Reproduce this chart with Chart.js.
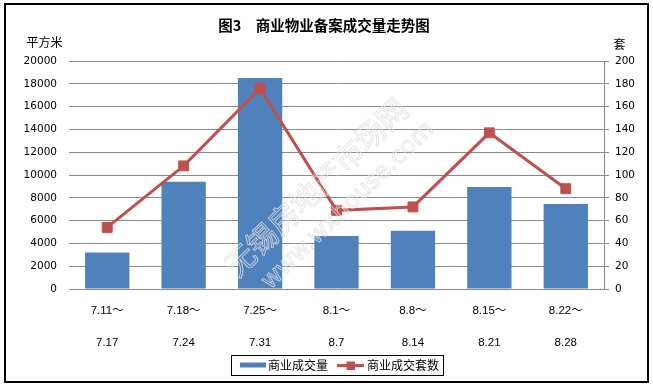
<!DOCTYPE html>
<html>
<head>
<meta charset="utf-8">
<script src="https://cdn.jsdelivr.net/npm/chart.js@4"></script>
<style>
  html, body { margin: 0; padding: 0; background: #fff; }
  #wrap { width: 653px; height: 388px; }
</style>
</head>
<body>
<div id="wrap"><canvas id="c" width="653" height="388"></canvas></div>
<script>
// ---- data ----
const startLabels = ["7.11～", "7.18～", "7.25～", "8.1～", "8.8～", "8.15～", "8.22～"];
const endLabels   = ["7.17", "7.24", "7.31", "8.7", "8.14", "8.21", "8.28"];
const areaValues  = [3200, 9400, 18500, 4650, 5100, 8950, 7450];   // 商业成交量 (平方米)
const countValues = [54, 108, 176, 69, 72, 137, 88];                // 商业成交套数 (套)
const leftTicks   = [0, 2000, 4000, 6000, 8000, 10000, 12000, 14000, 16000, 18000, 20000];
const rightTicks  = [0, 20, 40, 60, 80, 100, 120, 140, 160, 180, 200];
const titleText   = "图3　商业物业备案成交量走势图";
const leftUnit    = "平方米";
const rightUnit   = "套";
const seriesNames = ["商业成交量", "商业成交套数"];
const watermark1  = "无锡房地产市场网";
const watermark2  = "www.wxhouse.com";

const categories = startLabels.map((s, i) => [s, "", endLabels[i]]);

const BLUE = "#4F81BD";
const RED = "#C0504D";
const GRID = "#8a8a8a";
const CJK = "'Noto Sans CJK SC', 'Noto Sans', sans-serif";
const NUM = "'DejaVu Sans', 'Liberation Sans', sans-serif";

const decor = {
  id: "decor",
  beforeDraw(chart) {
    const ctx = chart.ctx;
    ctx.save();
    ctx.fillStyle = "#fff";
    ctx.fillRect(0, 0, chart.width, chart.height);
    ctx.restore();
  },
  afterDraw(chart) {
    const ctx = chart.ctx;
    ctx.save();
    // watermark
    ctx.save();
    ctx.translate(330, 190);
    ctx.rotate(-44 * Math.PI / 180);
    ctx.strokeStyle = "rgba(222,222,222,0.8)";
    ctx.lineWidth = 1;
    ctx.textAlign = "center";
    ctx.textBaseline = "middle";
    ctx.font = "30px " + CJK;
    ctx.strokeText(watermark1, -8, -12);
    ctx.font = "24px " + NUM;
    ctx.strokeText(watermark2, 2, 24);
    ctx.restore();

    // outer border
    ctx.strokeStyle = "#000";
    ctx.lineWidth = 2;
    ctx.strokeRect(5, 4, 643, 378);

    // title
    ctx.fillStyle = "#000";
    ctx.textAlign = "center";
    ctx.textBaseline = "middle";
    ctx.font = "bold 14.5px " + CJK;
    ctx.fillText(titleText, 324, 25);

    // units
    ctx.font = "12px " + CJK;
    ctx.fillText(leftUnit, 44.5, 42);
    ctx.fillText(rightUnit, 619.5, 44);

    // legend
    ctx.lineWidth = 1;
    ctx.strokeStyle = "#000";
    ctx.strokeRect(231.5, 355.5, 212, 20);
    ctx.fillStyle = BLUE;
    ctx.fillRect(240, 362.5, 26, 5);
    ctx.fillStyle = "#000";
    ctx.textAlign = "left";
    ctx.font = "12px " + CJK;
    ctx.fillText(seriesNames[0], 268, 365.5);
    ctx.strokeStyle = RED;
    ctx.lineWidth = 3;
    ctx.beginPath();
    ctx.moveTo(337, 365.5);
    ctx.lineTo(364, 365.5);
    ctx.stroke();
    ctx.fillStyle = RED;
    ctx.fillRect(346.5, 361.5, 8.5, 8.5);
    ctx.fillStyle = "#000";
    ctx.fillText(seriesNames[1], 367, 365.5);
    ctx.restore();
  }
};

new Chart(document.getElementById("c"), {
  data: {
    labels: categories,
    datasets: [
      {
        type: "line",
        label: seriesNames[1],
        data: countValues,
        yAxisID: "yR",
        borderColor: RED,
        backgroundColor: RED,
        borderWidth: 3,
        pointStyle: "rect",
        pointRadius: 7,
        pointHoverRadius: 7,
        pointBorderWidth: 1,
        pointBorderColor: RED,
        tension: 0,
        order: 0
      },
      {
        type: "bar",
        label: seriesNames[0],
        data: areaValues,
        yAxisID: "yL",
        backgroundColor: BLUE,
        borderWidth: 0,
        barPercentage: 0.58,
        categoryPercentage: 1,
        order: 1
      }
    ]
  },
  options: {
    responsive: false,
    devicePixelRatio: 1,
    animation: false,
    layout: { padding: { top: 61, left: 0, right: 0, bottom: 0 } },
    plugins: {
      legend: { display: false },
      title: { display: false },
      tooltip: { enabled: false }
    },
    scales: {
      x: {
        grid: { display: false, drawTicks: false },
        border: { display: false },
        ticks: {
          color: "#000",
          maxRotation: 0,
          autoSkip: false,
          padding: 13.5,
          font: { family: "'Liberation Sans', 'Noto Sans CJK SC', sans-serif", size: 11.5, lineHeight: 1.41 }
        },
        afterFit(s) { s.height = 99; }
      },
      yL: {
        position: "left",
        min: 0, max: 20000,
        afterBuildTicks(s) { s.ticks = leftTicks.map(v => ({ value: v })); },
        grid: { color: GRID, lineWidth: 1, drawTicks: false },
        border: { display: false },
        ticks: {
          color: "#000",
          padding: 12,
          callback: v => String(v),
          font: { family: NUM, size: 10.5 }
        },
        afterFit(s) { s.width = 69; }
      },
      yR: {
        position: "right",
        min: 0, max: 200,
        afterBuildTicks(s) { s.ticks = rightTicks.map(v => ({ value: v })); },
        grid: { drawOnChartArea: false, drawTicks: true, tickLength: 5, tickColor: GRID, color: GRID },
        border: { display: true, color: GRID, width: 1 },
        ticks: {
          color: "#000",
          padding: 6,
          callback: v => String(v),
          font: { family: NUM, size: 10.5 }
        },
        afterFit(s) { s.width = 49; }
      }
    }
  },
  plugins: [decor]
});
</script>
</body>
</html>
